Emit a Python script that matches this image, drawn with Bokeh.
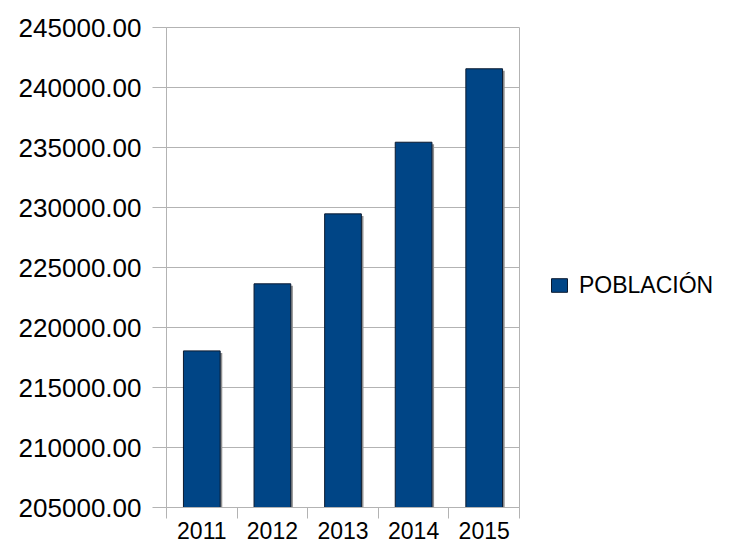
from bokeh.plotting import figure
from bokeh.models import (Range1d, FixedTicker, PrintfTickFormatter, ColumnDataSource,
                          Legend, LegendItem)
from bokeh.transform import dodge
from bokeh.embed import file_html
from bokeh.resources import INLINE

years = ["2011", "2012", "2013", "2014", "2015"]
poblacion = [218050, 223640, 229470, 235440, 241560]
y_ticks = [205000, 210000, 215000, 220000, 225000, 230000, 235000, 240000, 245000]

FONT = "Liberation Sans"
GRID = "#b3b3b3"
BAR = "#004586"

xs = [i + 0.5 for i in range(len(years))]
src = ColumnDataSource(dict(
    x=xs,
    top=poblacion,
    shadow_top=[v - 170 for v in poblacion],
))

p = figure(frame_width=353, frame_height=480, output_backend="svg", toolbar_location=None,
           x_range=Range1d(0, len(years)), y_range=Range1d(y_ticks[0], y_ticks[-1]),
           min_border_left=166, min_border_right=0, min_border_top=27,
           min_border_bottom=44)
p.background_fill_color = "white"
p.border_fill_color = "white"
p.outline_line_color = GRID

# shadow
p.vbar(x=dodge("x", 0.03), top="shadow_top", bottom=y_ticks[0], width=0.52,
       source=src, fill_color="#8f8f8f", line_color=None)
bars = p.vbar(x="x", top="top", bottom=y_ticks[0], width=0.52, source=src,
              fill_color=BAR, line_color="#0b1a30", line_width=1)

# y axis
p.yaxis.ticker = FixedTicker(ticks=y_ticks)
p.yaxis.formatter = PrintfTickFormatter(format="%.2f")
p.yaxis.axis_line_color = GRID
p.yaxis.major_tick_line_color = GRID
p.yaxis.major_tick_out = 14
p.yaxis.major_tick_in = 0
p.yaxis.minor_tick_line_color = None
p.yaxis.major_label_standoff = 11
p.yaxis.major_label_text_font = FONT
p.yaxis.major_label_text_font_size = "26px"
p.yaxis.major_label_text_color = "black"

# x axis
p.xaxis.ticker = FixedTicker(ticks=xs, minor_ticks=list(range(len(years) + 1)))
p.xaxis.major_label_overrides = {x: y for x, y in zip(xs, years)}
p.xaxis.axis_line_color = GRID
p.xaxis.major_tick_line_color = None
p.xaxis.major_tick_out = 0
p.xaxis.major_tick_in = 0
p.xaxis.minor_tick_line_color = GRID
p.xaxis.minor_tick_out = 11
p.xaxis.minor_tick_in = 0
p.xaxis.major_label_standoff = 3
p.xaxis.major_label_text_font = FONT
p.xaxis.major_label_text_font_size = "23px"
p.xaxis.major_label_text_color = "black"

p.xgrid.grid_line_color = None
p.ygrid.ticker = FixedTicker(ticks=y_ticks)
p.ygrid.grid_line_color = GRID

legend = Legend(items=[LegendItem(label="POBLACIÓN", renderers=[bars])],
                location="center_left", orientation="vertical",
                border_line_color=None, background_fill_alpha=0,
                padding=0, margin=30,
                title=" ", title_text_font_size="24px", title_standoff=8,
                glyph_width=20, glyph_height=17, label_standoff=10,
                label_text_font=FONT, label_text_font_size="23px",
                label_text_color="black")
p.add_layout(legend, "right")

open("out.html", "w").write(file_html(p, INLINE))
